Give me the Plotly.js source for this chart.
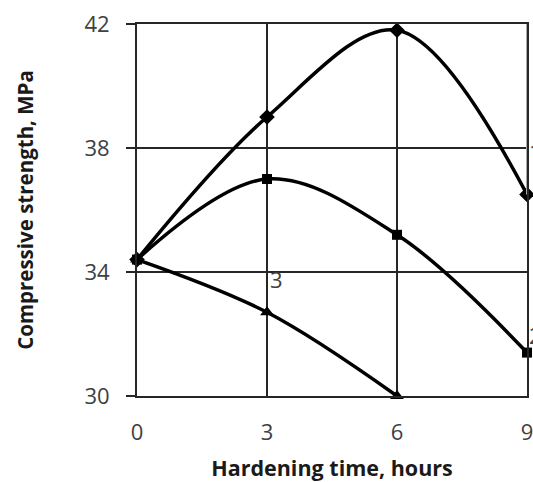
<!DOCTYPE html>
<html>
<head>
<meta charset="utf-8">
<script src="https://cdn.plot.ly/plotly-3.0.1.min.js"></script>
<style>html,body{margin:0;padding:0;background:#fff;}#chart{width:533px;height:482px;}</style>
</head>
<body>
<div id="chart"></div>
<script>
const hours = [0, 3, 6, 9];
const series1 = [34.4, 39.0, 41.8, 36.5];
const series2 = [34.4, 37.0, 35.2, 31.4];
const hours3 = [0, 3, 6];
const series3 = [34.4, 32.7, 30.0];
const curveLabels = ["1", "2", "3"];
const xTicks = [0, 3, 6, 9];
const yTicks = [30, 34, 38, 42];

const lineStyle = {color: '#000', width: 3.5, shape: 'spline', smoothing: 1};
const traces = [
  {x: hours, y: series1, mode: 'lines+markers', line: lineStyle,
   marker: {symbol: 'diamond', size: 12, color: '#000'}, cliponaxis: false},
  {x: hours, y: series2, mode: 'lines+markers', line: lineStyle,
   marker: {symbol: 'square', size: 10, color: '#000'}, cliponaxis: false},
  {x: hours3, y: series3, mode: 'lines+markers', line: lineStyle,
   marker: {symbol: 'triangle-up', size: 12, color: '#000'}, cliponaxis: false}
];

const tickFont = {family: 'Open Sans, sans-serif', size: 22, color: '#404040'};
const titleFont = {family: 'Open Sans, sans-serif', size: 21, color: '#1a1a1a', weight: 'bold'};
const gridCol = '#262626';
const layout = {
  width: 533, height: 482,
  margin: {l: 137, r: 6, t: 24, b: 86},
  paper_bgcolor: '#fff', plot_bgcolor: '#fff',
  showlegend: false,
  xaxis: {
    range: [0, 9], tickvals: xTicks, ticktext: xTicks.map(String),
    showgrid: true, gridcolor: gridCol, gridwidth: 2,
    showline: true, mirror: true, linecolor: gridCol, linewidth: 2,
    zeroline: false, ticks: '', tickfont: tickFont, ticklabelstandoff: 16,
    ticklabeloverflow: 'allow',
    title: {text: 'Hardening time, hours', standoff: 25,
      font: Object.assign({}, titleFont, {size: 21.5})}
  },
  yaxis: {
    range: [30, 42], tickvals: yTicks, ticktext: yTicks.map(String),
    showgrid: true, gridcolor: gridCol, gridwidth: 2,
    showline: true, mirror: true, linecolor: gridCol, linewidth: 2,
    zeroline: false, ticks: 'outside', ticklen: 9, tickwidth: 2, tickcolor: gridCol,
    tickfont: tickFont, ticklabelstandoff: 12,
    title: {text: 'Compressive strength, MPa', standoff: 45,
      font: Object.assign({}, titleFont, {size: 20.5})}
  },
  shapes: [
    {type: 'line', xref: 'x', yref: 'y', x0: hours[3], x1: hours[3], y0: series1[3], y1: yTicks[3],
     line: {color: '#aaaaaa', width: 2}}
  ],
  annotations: [
    {x: 9, y: series1[3], text: curveLabels[0], xref: 'x', yref: 'y', showarrow: false,
     xanchor: 'left', xshift: 0, yshift: 44, font: tickFont},
    {x: 9, y: series2[3], text: curveLabels[1], xref: 'x', yref: 'y', showarrow: false,
     xanchor: 'left', xshift: 0, yshift: 18, font: tickFont},
    {x: 3, y: series3[1], text: curveLabels[2], xref: 'x', yref: 'y', showarrow: false,
     xanchor: 'left', xshift: 1, yshift: 33, font: tickFont}
  ]
};
Plotly.newPlot('chart', traces, layout, {displayModeBar: false, staticPlot: true});
</script>
</body>
</html>
